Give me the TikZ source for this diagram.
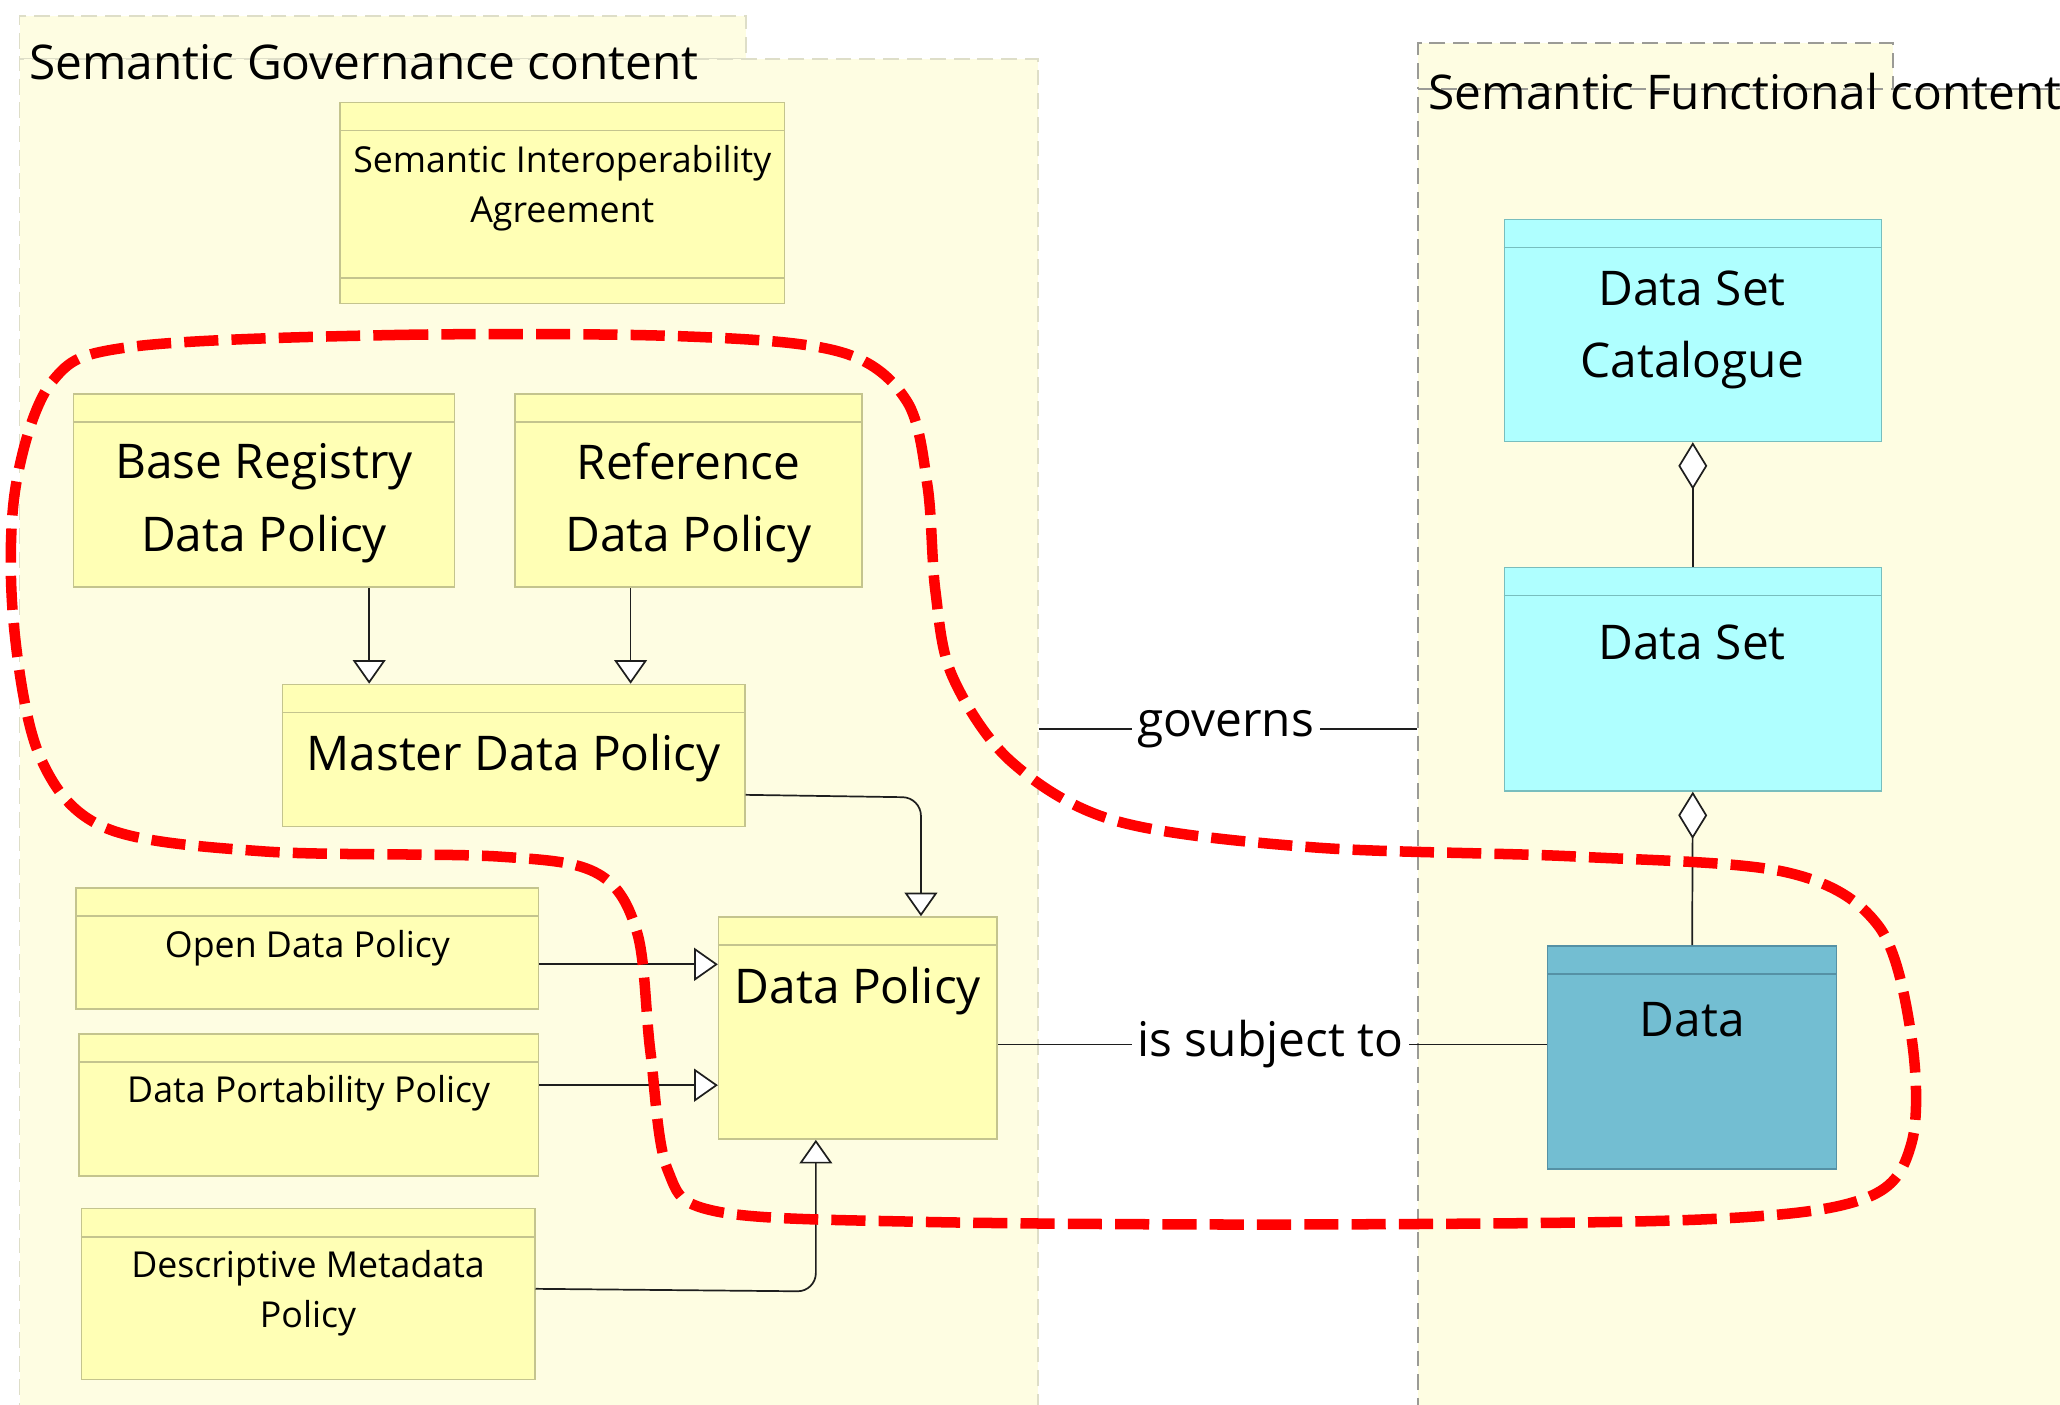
\documentclass[tikz,border=0pt]{standalone}
\usepackage{fontspec}
\setmainfont{Open Sans}
\usetikzlibrary{arrows.meta,fit,calc}
\definecolor{contfill}{RGB}{254,253,226}
\definecolor{contlineA}{RGB}{222,222,200}
\definecolor{contlineB}{RGB}{155,155,150}
\definecolor{yfill}{RGB}{255,255,181}
\definecolor{yline}{RGB}{196,196,142}
\definecolor{cfill}{RGB}{175,255,255}
\definecolor{cline}{RGB}{120,190,190}
\definecolor{dfill}{RGB}{115,190,210}
\definecolor{dline}{RGB}{85,145,165}
\definecolor{conn}{RGB}{30,30,30}
\definecolor{hull}{RGB}{255,0,0}
\newcommand\hdrline[2]{\draw[#2, line width=0.6pt] ($(#1.north west)+(0,-22)$) -- ($(#1.north east)+(0,-22)$);}
\begin{document}
\begin{tikzpicture}[x=0.5pt,y=0.5pt,
  bigtext/.style={font=\fontsize{18.2}{27.5}\selectfont, align=center, inner sep=0pt, text=black},
  smalltext/.style={font=\fontsize{13.6}{19}\selectfont, align=center, inner sep=0pt, text=black},
  contA/.style={draw=contlineA, fill=contfill, line width=0.6pt, dash pattern=on 6pt off 3pt, inner sep=0pt},
  contB/.style={draw=contlineB, fill=contfill, line width=0.75pt, dash pattern=on 6pt off 3pt, inner sep=0pt},
  ybox/.style={draw=yline, fill=yfill, line width=0.6pt, inner sep=0pt},
  cbox/.style={draw=cline, fill=cfill, line width=0.6pt, inner sep=0pt},
  dbox/.style={draw=dline, fill=dfill, line width=0.6pt, inner sep=0pt},
  gen/.style={draw=conn, line width=0.65pt, -{Triangle[fill=white, length=9pt, width=12.5pt, line width=0.65pt]}},
  agg/.style={draw=conn, line width=0.65pt, {Diamond[fill=white, length=18pt, width=11pt, line width=0.65pt]}-},
  assoc/.style={draw=conn, line width=0.7pt},
  rel/.style={font=\fontsize{18.2}{22}\selectfont, fill=white, inner xsep=2pt, inner ysep=0pt, text=black}
]
\useasboundingbox (0,0) rectangle (1568,-1069);
\clip (0,0) rectangle (1568,-1069);
\fill[white] (0,0) rectangle (1568,-1069);

% containers
\node[contA, fit={(15,-12) (568,-45)}] (govtab) {};
\node[contA, fit={(15,-45) (790,-1090)}] (gov) {};
\node[bigtext, anchor=west] (gov-t) at (22,-47) {Semantic Governance content};

\node[contB, fit={(1079,-33) (1441,-68)}] (functab) {};
\node[contB, fit={(1079,-68) (1600,-1090)}] (func) {};
\node[bigtext, anchor=west] (func-t) at (1087,-70) {Semantic Functional content};

% governance boxes
\node[ybox, fit={(259,-78) (597,-231)}] (sia) {};
\hdrline{sia}{yline}
\draw[yline, line width=0.6pt] ($(sia.south west)+(0,20)$) -- ($(sia.south east)+(0,20)$);
\node[smalltext] (sia-t) at (428,-143) {Semantic Interoperability\\Agreement};

\node[ybox, fit={(56,-300) (346,-447)}] (base) {};
\hdrline{base}{yline}
\node[bigtext] (base-t) at (201,-383) {Base Registry\\Data Policy};

\node[ybox, fit={(392,-300) (656,-447)}] (ref) {};
\hdrline{ref}{yline}
\node[bigtext] (ref-t) at (524,-383) {Reference\\Data Policy};

\node[ybox, fit={(215,-521) (567,-629)}] (master) {};
\hdrline{master}{yline}
\node[bigtext] (master-t) at (391,-577) {Master Data Policy};

\node[ybox, fit={(547,-698) (759,-867)}] (dp) {};
\hdrline{dp}{yline}
\node[bigtext] (dp-t) at (653,-754) {Data Policy};

\node[ybox, fit={(58,-676) (410,-768)}] (open) {};
\hdrline{open}{yline}
\node[smalltext] (open-t) at (234,-722) {Open Data Policy};

\node[ybox, fit={(60,-787) (410,-895)}] (port) {};
\hdrline{port}{yline}
\node[smalltext] (port-t) at (235,-832) {Data Portability Policy};

\node[ybox, fit={(62,-920) (407,-1050)}] (desc) {};
\hdrline{desc}{yline}
\node[smalltext] (desc-t) at (234.5,-984) {Descriptive Metadata\\Policy};

% functional boxes
\node[cbox, fit={(1145,-167) (1432,-336)}] (cat) {};
\hdrline{cat}{cline}
\node[bigtext] (cat-t) at (1288,-251) {Data Set\\Catalogue};

\node[cbox, fit={(1145,-432) (1432,-602)}] (ds) {};
\hdrline{ds}{cline}
\node[bigtext] (ds-t) at (1288,-489) {Data Set};

\node[dbox, fit={(1178,-720) (1398,-890)}] (data) {};
\hdrline{data}{dline}
\node[bigtext] (data-t) at (1288,-776) {Data};

% specialisation connectors
\draw[gen] ([xshift=40pt]base.south) -- ([xshift=40pt]base.south |- master.north);
\draw[gen] ([xshift=-22pt]ref.south) -- ([xshift=-22pt]ref.south |- master.north);
\coordinate (mcorner) at (701,-607);
\draw[gen, rounded corners=7pt] ([yshift=-15pt]master.east) -- (mcorner) -- (dp.north -| mcorner);
\draw[gen] ([yshift=-6pt]open.east) -- ([yshift=-6pt]open.east -| dp.west);
\draw[gen] ([yshift=7.5pt]port.east) -- ([yshift=7.5pt]port.east -| dp.west);
\coordinate (dcorner) at (621,-983);
\draw[gen, rounded corners=7pt] ([yshift=2pt]desc.east) -- (dcorner) -- (dp.south -| dcorner);

% aggregation
\draw[agg] (cat.south) -- (ds.north);
\draw[agg] (ds.south) -- (data.north);

% associations
\node[rel] (gov-l) at (933,-555) {governs};
\draw[assoc] (gov.east |- gov-l) -- (gov-l.west);
\draw[assoc] (gov-l.east) -- (func.west |- gov-l);
\node[rel] (sub-l) at (967,-795) {is subject to};
\draw[assoc] (dp.east |- sub-l) -- (sub-l.west);
\draw[assoc] (sub-l.east) -- (data.west |- sub-l);

% red dashed hull
\draw[hull, line width=4pt, dash pattern=on 13pt off 5pt]
  plot[smooth cycle, tension=0.55] coordinates {
  (100,-264) (300,-255) (520,-256) (640,-268) (690,-305) (706,-370)
  (712,-450) (725,-515) (770,-580) (850,-625) (1000,-645) (1200,-652)
  (1360,-664) (1430,-705) (1455,-790) (1455,-870) (1420,-912) (1300,-928)
  (1000,-932) (700,-930) (545,-922) (508,-890) (495,-800) (485,-710)
  (455,-665) (380,-652) (200,-648) (80,-630) (30,-575) (10,-470)
  (12,-370) (40,-290)};
\end{tikzpicture}
\end{document}
